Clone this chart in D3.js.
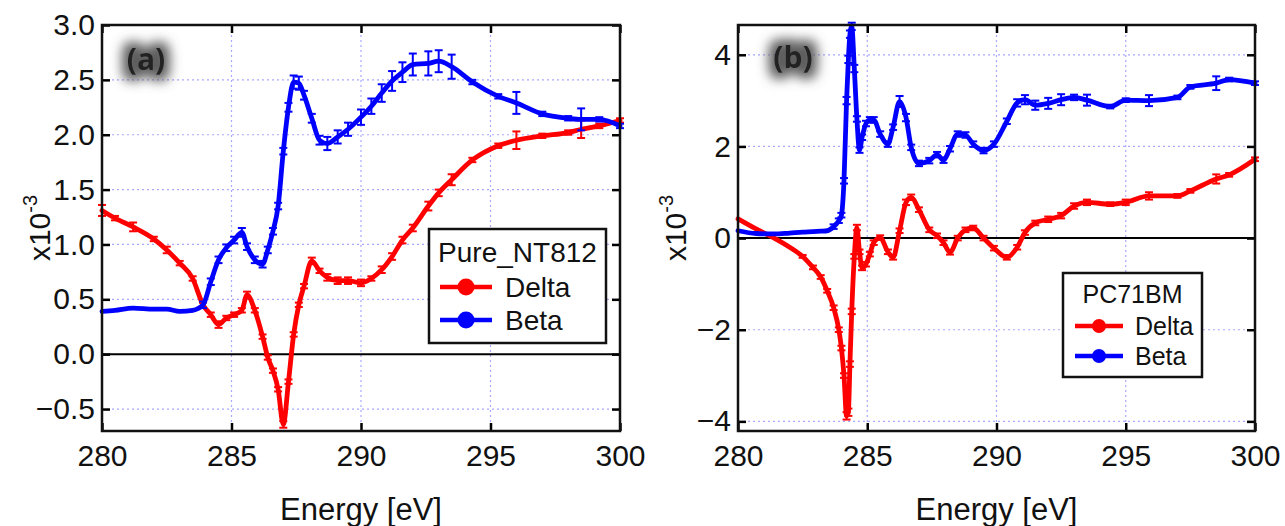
<!DOCTYPE html>
<html>
<head>
<meta charset="utf-8">
<script src="https://cdn.jsdelivr.net/npm/d3@7"></script>
<style>
  body { margin: 0; background: #fff; }
  svg { display: block; font-family: "Liberation Sans", Arial, sans-serif; }
</style>
</head>
<body>
<div id="chart"></div>
<script>
// ---- panel (a) : Pure_NT812 ----
var aEnergy = [280, 280.5, 281.2, 282.0, 282.5, 283.0, 283.5, 283.9, 284.2, 284.5, 284.8, 285.1, 285.4, 285.6, 285.9,
  286.2, 286.4, 286.6, 286.8, 287.0, 287.2, 287.4, 287.6, 287.8, 288.1, 288.4, 288.7, 289.1, 289.5, 290.0,
  290.4, 290.8, 291.2, 291.6, 292.0, 292.6, 293.0, 293.5, 294.3, 295.3, 296.0, 297.0, 298.0, 298.5, 299.2, 300];
var aDelta = [1.31, 1.24, 1.16, 1.05, 0.95, 0.83, 0.69, 0.45, 0.36, 0.27, 0.33, 0.36, 0.40, 0.54, 0.40,
  0.16, -0.03, -0.15, -0.32, -0.64, -0.25, 0.18, 0.45, 0.62, 0.85, 0.76, 0.70, 0.67, 0.67, 0.65,
  0.69, 0.77, 0.89, 1.04, 1.15, 1.35, 1.47, 1.59, 1.77, 1.90, 1.95, 1.99, 2.02, 2.05, 2.08, 2.13];
var aDeltaErr = [0.05, 0.02, 0.04, 0.02, 0.03, 0.02, 0.02, 0.02, 0.02, 0.03, 0.02, 0.02, 0.02, 0.03, 0.02,
  0.02, 0.02, 0.02, 0.02, 0.03, 0.02, 0.02, 0.02, 0.02, 0.03, 0.02, 0.03, 0.03, 0.03, 0.03,
  0.02, 0.03, 0.03, 0.03, 0.03, 0.04, 0.03, 0.05, 0.02, 0.02, 0.08, 0.02, 0.02, 0.08, 0.02, 0.02];
var aBeta = [0.39, 0.40, 0.42, 0.41, 0.41, 0.39, 0.40, 0.45, 0.66, 0.86, 0.97, 1.04, 1.11, 0.98, 0.86,
  0.82, 0.95, 1.12, 1.35, 1.85, 2.25, 2.48, 2.47, 2.36, 2.15, 1.95, 1.92, 1.98, 2.05, 2.16,
  2.26, 2.38, 2.49, 2.57, 2.64, 2.65, 2.67, 2.62, 2.48, 2.35, 2.29, 2.19, 2.15, 2.14, 2.14, 2.08];
var aBetaErr = [0, 0, 0, 0, 0, 0, 0, 0.03, 0.03, 0.03, 0.03, 0.03, 0.04, 0.03, 0.03,
  0.03, 0.03, 0.03, 0.03, 0.03, 0.04, 0.06, 0.06, 0.04, 0.04, 0.04, 0.06, 0.06, 0.06, 0.07,
  0.07, 0.08, 0.09, 0.09, 0.10, 0.11, 0.10, 0.11, 0.02, 0.02, 0.10, 0.02, 0.02, 0.10, 0.02, 0.02];
var aTicksY = [-0.5, 0.0, 0.5, 1.0, 1.5, 2.0, 2.5, 3.0];

// ---- panel (b) : PC71BM ----
var bEnergy = [280, 280.7, 281.4, 282.0, 282.5, 282.9, 283.2, 283.45, 283.7, 283.9, 284.0, 284.1, 284.2, 284.27,
  284.33, 284.4, 284.5, 284.6, 284.7, 284.8, 284.95, 285.1, 285.25, 285.5, 285.8, 286.0, 286.25, 286.5,
  286.7, 287.0, 287.4, 287.7, 287.95, 288.2, 288.5, 288.8, 289.1, 289.5, 289.9, 290.4, 290.8, 291.1,
  291.5, 292.0, 292.5, 293.0, 293.5, 294.4, 295.0, 295.9, 297.0, 297.5, 298.5, 299.0, 300];
var bDelta = [0.42, 0.20, 0.00, -0.20, -0.40, -0.64, -0.85, -1.15, -1.52, -2.00, -2.40, -3.00, -3.88, -3.80,
  -2.75, -1.60, -0.40, 0.23, -0.30, -0.65, -0.57, -0.35, -0.10, 0.01, -0.30, -0.42, 0.16, 0.78,
  0.89, 0.62, 0.18, 0.05, -0.10, -0.31, 0.00, 0.18, 0.22, 0.00, -0.22, -0.42, -0.20, 0.12,
  0.33, 0.41, 0.49, 0.70, 0.78, 0.74, 0.78, 0.92, 0.92, 1.03, 1.29, 1.38, 1.72];
var bDeltaErr = [0, 0, 0, 0, 0.03, 0.04, 0.04, 0.04, 0.05, 0.05, 0.05, 0.05, 0.08, 0.08,
  0.06, 0.06, 0.05, 0.06, 0.05, 0.05, 0.05, 0.05, 0.05, 0.05, 0.05, 0.05, 0.05, 0.06,
  0.06, 0.05, 0.05, 0.05, 0.05, 0.05, 0.05, 0.05, 0.05, 0.05, 0.05, 0.05, 0.05, 0.05,
  0.05, 0.06, 0.06, 0.06, 0.06, 0.04, 0.06, 0.08, 0.04, 0.04, 0.10, 0.04, 0.04];
var bBeta = [0.16, 0.10, 0.09, 0.11, 0.13, 0.14, 0.15, 0.16, 0.25, 0.38, 0.50, 1.25, 3.00, 3.90,
  4.45, 4.62, 3.70, 2.60, 1.92, 2.20, 2.50, 2.58, 2.58, 2.27, 2.05, 2.42, 2.98, 2.63,
  1.98, 1.63, 1.69, 1.82, 1.70, 1.95, 2.27, 2.25, 2.05, 1.91, 2.05, 2.55, 2.95, 3.02,
  2.90, 2.94, 3.02, 3.07, 3.01, 2.87, 3.01, 3.00, 3.07, 3.30, 3.38, 3.46, 3.38];
var bBetaErr = [0, 0, 0, 0, 0, 0, 0, 0, 0.05, 0.05, 0.05, 0.06, 0.08, 0.08,
  0.08, 0.08, 0.08, 0.06, 0.06, 0.06, 0.06, 0.06, 0.06, 0.06, 0.06, 0.06, 0.12, 0.08,
  0.06, 0.06, 0.06, 0.06, 0.06, 0.06, 0.06, 0.06, 0.06, 0.06, 0.06, 0.06, 0.08, 0.10,
  0.10, 0.12, 0.12, 0.06, 0.12, 0.04, 0.04, 0.12, 0.04, 0.04, 0.15, 0.04, 0.04];
var bTicksY = [-4, -2, 0, 2, 4];

var xTicks = [280, 285, 290, 295, 300];

var W = 1285, H = 526;
var svg = d3.select('#chart').append('svg').attr('width', W).attr('height', H);
svg.append('rect').attr('width', W).attr('height', H).attr('fill', '#fff');

// soft grey halo behind the panel tags
var defs = svg.append('defs');
var glow = defs.append('filter').attr('id', 'glow')
  .attr('x', '-80%').attr('y', '-80%').attr('width', '260%').attr('height', '260%');
glow.append('feMorphology').attr('in', 'SourceAlpha').attr('operator', 'dilate').attr('radius', 6).attr('result', 'd');
glow.append('feGaussianBlur').attr('in', 'd').attr('stdDeviation', 6).attr('result', 'b');
glow.append('feFlood').attr('flood-color', '#5e5e5e').attr('result', 'c');
glow.append('feComposite').attr('in', 'c').attr('in2', 'b').attr('operator', 'in').attr('result', 's');
var merge = glow.append('feMerge');
merge.append('feMergeNode').attr('in', 's');
merge.append('feMergeNode').attr('in', 'SourceGraphic');

function drawPanel(p) {

  var x = d3.scaleLinear().domain([280, 300]).range([p.left, p.right]);
  var y = d3.scaleLinear().domain(p.yDomain).range([p.bottom, p.top]);
  var g = svg.append('g');

  // dotted grid
  g.selectAll('.gx').data(xTicks.slice(1, -1)).enter().append('line')
    .attr('x1', function (d) { return x(d); }).attr('x2', function (d) { return x(d); })
    .attr('y1', p.top).attr('y2', p.bottom)
    .attr('stroke', '#a8a8ff').attr('stroke-width', 1.2).attr('stroke-dasharray', '2,3');
  g.selectAll('.gy').data(p.ticksY.filter(function (d) { return d !== 0; })).enter().append('line')
    .attr('x1', p.left).attr('x2', p.right)
    .attr('y1', function (d) { return y(d); }).attr('y2', function (d) { return y(d); })
    .attr('stroke', '#a8a8ff').attr('stroke-width', 1.2).attr('stroke-dasharray', '2,3');

  // zero line
  g.append('line').attr('x1', p.left).attr('x2', p.right)
    .attr('y1', y(0)).attr('y2', y(0)).attr('stroke', '#000').attr('stroke-width', 2);

  // axes (ticks pointing inward)
  g.append('g').attr('transform', 'translate(0,' + p.bottom + ')')
    .call(d3.axisBottom(x).tickValues(xTicks).tickSize(-8).tickSizeOuter(0).tickPadding(14).tickFormat(d3.format('d')));
  g.append('g').attr('transform', 'translate(' + p.left + ',0)')
    .call(d3.axisLeft(y).tickValues(p.ticksY).tickSize(-8).tickSizeOuter(0).tickPadding(7).tickFormat(p.fmt));
  g.append('g').attr('transform', 'translate(0,' + p.top + ')')
    .call(d3.axisTop(x).tickValues(xTicks).tickSize(-8).tickSizeOuter(0).tickFormat(''));
  g.append('g').attr('transform', 'translate(' + p.right + ',0)')
    .call(d3.axisRight(y).tickValues(p.ticksY).tickSize(-8).tickSizeOuter(0).tickFormat(''));
  g.selectAll('.domain').remove();
  g.selectAll('.tick line').attr('stroke', '#000').attr('stroke-width', 2.5);
  g.selectAll('.tick text').attr('font-size', 30).attr('font-family', '"Liberation Sans", Arial, sans-serif').attr('fill', '#111');

  // series
  var line = d3.line().curve(d3.curveMonotoneX)
    .x(function (d) { return x(d.e); }).y(function (d) { return y(d.v); });

  p.series.forEach(function (s) {
    var pts = p.energy.map(function (e, i) { return { e: e, v: s.values[i], err: s.err[i] }; });
    g.append('path').datum(pts).attr('d', line)
      .attr('fill', 'none').attr('stroke', s.color).attr('stroke-width', 4.8)
      .attr('stroke-linejoin', 'round').attr('stroke-linecap', 'round');
    var eb = g.append('g').attr('stroke', s.color).attr('stroke-width', 2);
    pts.filter(function (d) { return d.err > 0; }).forEach(function (d) {
      var cx = x(d.e), y1 = y(d.v - d.err), y2 = y(d.v + d.err);
      eb.append('line').attr('x1', cx).attr('x2', cx).attr('y1', y1).attr('y2', y2);
      eb.append('line').attr('x1', cx - 4).attr('x2', cx + 4).attr('y1', y1).attr('y2', y1);
      eb.append('line').attr('x1', cx - 4).attr('x2', cx + 4).attr('y1', y2).attr('y2', y2);
    });
  });

  // frame
  g.append('rect').attr('x', p.left).attr('y', p.top)
    .attr('width', p.right - p.left).attr('height', p.bottom - p.top)
    .attr('fill', 'none').attr('stroke', '#111').attr('stroke-width', 2.5);

  // panel tag with grey glow
  g.append('text').attr('x', p.tagX).attr('y', p.tagY)
    .attr('text-anchor', 'middle').attr('font-size', 30).attr('font-weight', 'bold')
    .attr('font-family', '"Open Sans", "DejaVu Sans", sans-serif')
    .attr('fill', '#222').attr('filter', 'url(#glow)').text(p.tag);

  // axis titles
  g.append('text').attr('x', (p.left + p.right) / 2).attr('y', 520)
    .attr('text-anchor', 'middle').attr('font-size', 31).attr('fill', '#111').text('Energy [eV]');
  var yl = g.append('text')
    .attr('transform', 'translate(' + p.yLabelX + ',' + ((p.top + p.bottom) / 2) + ') rotate(-90)')
    .attr('text-anchor', 'middle').attr('font-size', 30).attr('fill', '#111');
  yl.append('tspan').text('x10');
  yl.append('tspan').attr('font-size', 20).attr('dy', -13).text('-3');

  // legend
  var L = p.legend;
  var lg = g.append('g');
  lg.append('rect').attr('x', L.x).attr('y', L.y).attr('width', L.w).attr('height', L.h)
    .attr('fill', '#fff').attr('stroke', '#111').attr('stroke-width', 2.5);
  lg.append('text').attr('x', L.x + L.w / 2).attr('y', L.y + L.titleY)
    .attr('text-anchor', 'middle').attr('font-size', L.fs).attr('fill', '#111').text(L.title);
  p.series.forEach(function (s, i) {
    var ly = L.y + L.rowY[i];
    lg.append('line').attr('x1', L.x + L.lineX0).attr('x2', L.x + L.lineX1)
      .attr('y1', ly).attr('y2', ly).attr('stroke', s.color).attr('stroke-width', 4.5);
    lg.append('circle').attr('cx', L.x + (L.lineX0 + L.lineX1) / 2).attr('cy', ly)
      .attr('r', L.r).attr('fill', s.color);
    lg.append('text').attr('x', L.x + L.textX).attr('y', ly + L.fs * 0.35)
      .attr('font-size', L.fs).attr('fill', '#111').text(s.name);
  });
}

drawPanel({
  left: 102, right: 620, top: 25, bottom: 431,
  yDomain: [-0.7, 3.0], ticksY: aTicksY, fmt: d3.format('.1f'),
  energy: aEnergy,
  series: [
    { name: 'Delta', color: '#ff0000', values: aDelta, err: aDeltaErr },
    { name: 'Beta', color: '#0000ff', values: aBeta, err: aBetaErr }
  ],
  tag: '(a)', tagX: 146, tagY: 70,
  yLabelX: 50,
  legend: { x: 429, y: 229, w: 177, h: 114, title: 'Pure_NT812', titleY: 33, fs: 28,
    rowY: [58, 91], lineX0: 11, lineX1: 63, r: 8.5, textX: 76 }
});

drawPanel({
  left: 738, right: 1255, top: 25, bottom: 431,
  yDomain: [-4.21, 4.65], ticksY: bTicksY, fmt: d3.format('d'),
  energy: bEnergy,
  series: [
    { name: 'Delta', color: '#ff0000', values: bDelta, err: bDeltaErr },
    { name: 'Beta', color: '#0000ff', values: bBeta, err: bBetaErr }
  ],
  tag: '(b)', tagX: 793, tagY: 68,
  yLabelX: 686,
  legend: { x: 1063, y: 273, w: 139, h: 104, title: 'PC71BM', titleY: 30, fs: 25,
    rowY: [53, 83], lineX0: 12, lineX1: 60, r: 7, textX: 72 }
});
</script>
</body>
</html>
